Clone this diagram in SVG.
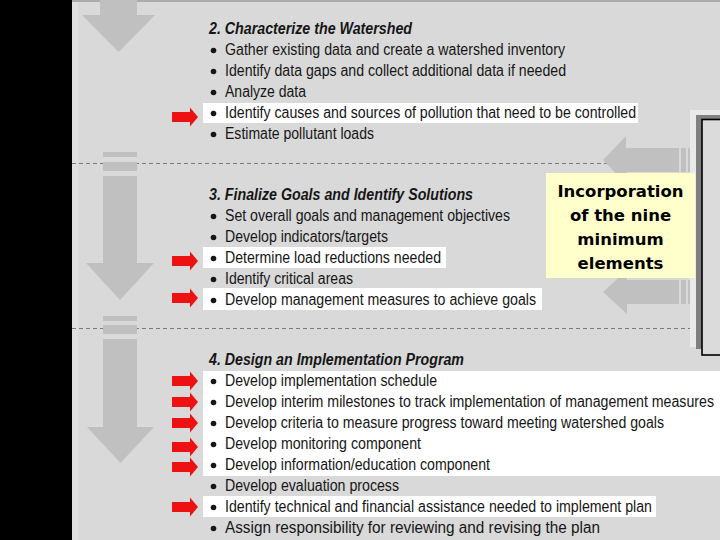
<svg xmlns="http://www.w3.org/2000/svg" width="720" height="540" viewBox="0 0 720 540">
<style>
.t{font-family:"Liberation Sans Narrow","Liberation Sans",Arial,sans-serif;font-size:16px;fill:#161616}
.h{font-weight:bold;font-style:italic}
.b{fill:#161616}
.hl{fill:#ffffff}
.ga{fill:#c0c0c0}
.ra{fill:#ee1111}
.dash{stroke:#7a7a7a;stroke-width:1;stroke-dasharray:4 3;fill:none}
.y{font-family:"DejaVu Sans",Verdana,sans-serif;font-weight:bold;font-size:16.5px;fill:#000;text-anchor:middle}
</style>
<defs>
<g id="ra"><rect x="172" y="-5" width="19" height="10"/><polygon points="190,-9.5 198,0 190,9.5"/></g>
</defs>
<rect x="0" y="0" width="720" height="540" fill="#000"/>
<rect x="72" y="0" width="648" height="540" fill="#d9d9d9"/>
<rect x="72" y="0" width="6" height="540" fill="#dfdfdf"/>
<rect x="72" y="0" width="648" height="2" fill="#ababab"/>

<g id="connectors">
<line class="dash" x1="72" y1="163.5" x2="690" y2="163.5"/>
<line class="dash" x1="72" y1="328.5" x2="690" y2="328.5"/>
<g id="arrow-down-1" class="ga">
<rect x="100" y="0" width="37" height="15"/>
<polygon points="82,15 155,15 118.5,52"/>
</g>
<g id="arrow-down-2" class="ga">
<rect x="103" y="152" width="34" height="5"/>
<rect x="103" y="162" width="34" height="9"/>
<rect x="103" y="176" width="34" height="88"/>
<polygon points="86,263 154,263 120,300"/>
</g>
<g id="arrow-down-3" class="ga">
<rect x="103" y="316" width="34" height="5"/>
<rect x="103" y="325" width="34" height="9"/>
<rect x="103" y="339" width="34" height="89"/>
<polygon points="87,427 154,427 120.5,463"/>
</g>
<g id="arrow-left-1" class="ga">
<polygon points="603,160 626,136 626,148 679,148 679,172 626,172 626,184"/>
<rect x="681" y="148" width="5" height="24"/>
<rect x="688" y="148" width="3" height="24"/>
</g>
<g id="arrow-left-2" class="ga">
<polygon points="603,292 627,270 627,280 679,280 679,304 627,304 627,314"/>
<rect x="681" y="280" width="5" height="24"/>
<rect x="688" y="280" width="3" height="24"/>
</g>
</g>

<g id="frame">
<rect x="690" y="110" width="30" height="237" fill="#e9e9e9"/>
<rect x="696" y="115" width="30" height="234" fill="#808080"/>
<rect x="702" y="119.5" width="30" height="235.5" fill="#dbdbdb" stroke="#000" stroke-width="1.6"/>
</g>

<g id="highlights">
<rect class="hl" x="203" y="103" width="435" height="20"/>
<rect class="hl" x="203" y="247" width="243" height="21"/>
<rect class="hl" x="203" y="288" width="339" height="22"/>
<rect class="hl" x="203" y="371" width="517" height="105"/>
<rect class="hl" x="203" y="496" width="453" height="21"/>
</g>

<g id="section-2">
<text class="t h" x="209" y="34" textLength="203" lengthAdjust="spacingAndGlyphs">2. Characterize the Watershed</text>
<circle class="b" cx="213.5" cy="50.5" r="2.8"/>
<text class="t" x="225" y="55" textLength="340" lengthAdjust="spacingAndGlyphs">Gather existing data and create a watershed inventory</text>
<circle class="b" cx="213.5" cy="71.5" r="2.8"/>
<text class="t" x="225" y="76" textLength="341" lengthAdjust="spacingAndGlyphs">Identify data gaps and collect additional data if needed</text>
<circle class="b" cx="213.5" cy="92.5" r="2.8"/>
<text class="t" x="225" y="97" textLength="81" lengthAdjust="spacingAndGlyphs">Analyze data</text>
<circle class="b" cx="213.5" cy="113.5" r="2.8"/>
<text class="t" x="225" y="118" textLength="411" lengthAdjust="spacingAndGlyphs">Identify causes and sources of pollution that need to be controlled</text>
<circle class="b" cx="213.5" cy="134.5" r="2.8"/>
<text class="t" x="225" y="139" textLength="149" lengthAdjust="spacingAndGlyphs">Estimate pollutant loads</text>
</g>

<g id="section-3">
<text class="t h" x="209" y="200" textLength="264" lengthAdjust="spacingAndGlyphs">3. Finalize Goals and Identify Solutions</text>
<circle class="b" cx="213.5" cy="216.5" r="2.8"/>
<text class="t" x="225" y="221" textLength="285" lengthAdjust="spacingAndGlyphs">Set overall goals and management objectives</text>
<circle class="b" cx="213.5" cy="237.5" r="2.8"/>
<text class="t" x="225" y="242" textLength="163" lengthAdjust="spacingAndGlyphs">Develop indicators/targets</text>
<circle class="b" cx="213.5" cy="258.5" r="2.8"/>
<text class="t" x="225" y="263" textLength="216" lengthAdjust="spacingAndGlyphs">Determine load reductions needed</text>
<circle class="b" cx="213.5" cy="279.5" r="2.8"/>
<text class="t" x="225" y="284" textLength="128" lengthAdjust="spacingAndGlyphs">Identify critical areas</text>
<circle class="b" cx="213.5" cy="300.5" r="2.8"/>
<text class="t" x="225" y="305" textLength="311" lengthAdjust="spacingAndGlyphs">Develop management measures to achieve goals</text>
</g>

<g id="section-4">
<text class="t h" x="209" y="365" textLength="255" lengthAdjust="spacingAndGlyphs">4. Design an Implementation Program</text>
<circle class="b" cx="213.5" cy="381.5" r="2.8"/>
<text class="t" x="225" y="386" textLength="212" lengthAdjust="spacingAndGlyphs">Develop implementation schedule</text>
<circle class="b" cx="213.5" cy="402.5" r="2.8"/>
<text class="t" x="225" y="407" textLength="489" lengthAdjust="spacingAndGlyphs">Develop interim milestones to track implementation of management measures</text>
<circle class="b" cx="213.5" cy="423.5" r="2.8"/>
<text class="t" x="225" y="428" textLength="439" lengthAdjust="spacingAndGlyphs">Develop criteria to measure progress toward meeting watershed goals</text>
<circle class="b" cx="213.5" cy="444.5" r="2.8"/>
<text class="t" x="225" y="449" textLength="196" lengthAdjust="spacingAndGlyphs">Develop monitoring component</text>
<circle class="b" cx="213.5" cy="465.5" r="2.8"/>
<text class="t" x="225" y="470" textLength="265" lengthAdjust="spacingAndGlyphs">Develop information/education component</text>
<circle class="b" cx="213.5" cy="486.5" r="2.8"/>
<text class="t" x="225" y="491" textLength="174" lengthAdjust="spacingAndGlyphs">Develop evaluation process</text>
<circle class="b" cx="213.5" cy="507.5" r="2.8"/>
<text class="t" x="225" y="512" textLength="427" lengthAdjust="spacingAndGlyphs">Identify technical and financial assistance needed to implement plan</text>
<circle class="b" cx="213.5" cy="528.5" r="2.8"/>
<text class="t" x="225" y="533" textLength="375" lengthAdjust="spacingAndGlyphs">Assign responsibility for reviewing and revising the plan</text>
</g>

<g id="red-arrows" class="ra">
<use href="#ra" y="117"/>
<use href="#ra" y="261"/>
<use href="#ra" y="298"/>
<use href="#ra" y="381"/>
<use href="#ra" y="402"/>
<use href="#ra" y="423"/>
<use href="#ra" y="447"/>
<use href="#ra" y="467"/>
<use href="#ra" y="507"/>
</g>

<g id="callout">
<rect x="546" y="173" width="149" height="105" fill="#ffffcc"/>
<text class="y" x="620.5" y="197">Incorporation</text>
<text class="y" x="620.5" y="221">of the nine</text>
<text class="y" x="620.5" y="245">minimum</text>
<text class="y" x="620.5" y="269">elements</text>
</g>
</svg>
